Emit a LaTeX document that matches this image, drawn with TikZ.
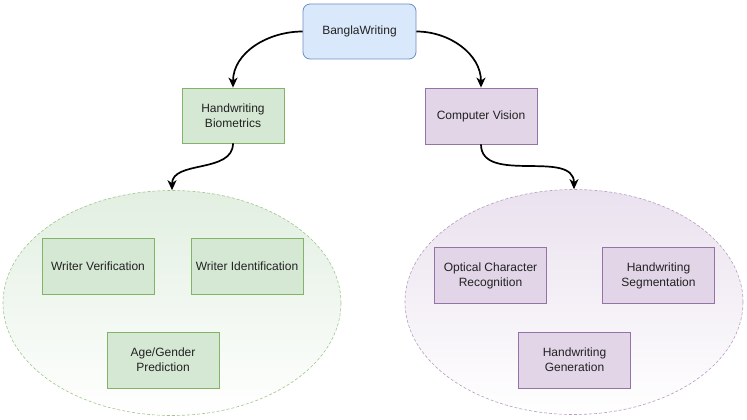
\documentclass[tikz,border=0pt]{standalone}
\usepackage{fontspec}
\setmainfont{Liberation Sans}
\usetikzlibrary{shapes.geometric,arrows.meta,positioning}
\definecolor{bluefill}{HTML}{DAE8FC}
\definecolor{bluedraw}{HTML}{6C8EBF}
\definecolor{greenfill}{HTML}{D5E8D4}
\definecolor{greendraw}{HTML}{82B366}
\definecolor{purplefill}{HTML}{E1D5E7}
\definecolor{purpledraw}{HTML}{9673A6}
\definecolor{textgrey}{HTML}{222222}
\tikzset{
  box/.style={align=center,font=\fontsize{12}{15}\selectfont,text=textgrey,line width=0.8pt,
    minimum width=112pt,minimum height=56pt,inner sep=2pt},
  rootbox/.style={box,draw=bluedraw,fill=bluefill,rounded corners=7pt,minimum width=113pt,minimum height=55pt},
  greenbox/.style={box,draw=greendraw,fill=greenfill},
  purplebox/.style={box,draw=purpledraw,fill=purplefill},
  group/.style={ellipse,dash pattern=on 3pt off 2pt,line width=0.6pt,minimum width=338pt,minimum height=225pt,inner sep=0pt},
  greengroup/.style={group,draw=greendraw!75!white,top color=greenfill!70!white,bottom color=white},
  purplegroup/.style={group,draw=purpledraw!70!white,top color=purplefill!70!white,bottom color=white},
  link/.style={-{Stealth[length=10pt,width=9pt,inset=3pt]},line width=1.7pt,black}
}
\begin{document}
\begin{tikzpicture}[x=1pt,y=-1pt]
%
\useasboundingbox (0,0) rectangle (747,420);
%
\node[greengroup] (bio) at (172,303) {};
\node[purplegroup] (cvg) at (574,302) {};
%
\node[rootbox] (bangla) at (359.5,31.5) {BanglaWriting};
\node[greenbox,minimum width=102pt,minimum height=55pt] (biom) at (233,115.5) {Handwriting\\Biometrics};
\node[purplebox] (vision) at (481,116) {Computer Vision};
%
\node[greenbox] (wver) at (98,266) {Writer Verification};
\node[greenbox] (wid) at (247,266) {Writer Identification};
\node[greenbox] (agp) at (163,360) {Age/Gender\\Prediction};
%
\node[purplebox] (ocr) at (490.5,275.5) {Optical Character\\Recognition};
\node[purplebox] (hseg) at (658.5,275.5) {Handwriting\\Segmentation};
\node[purplebox] (hgen) at (574.5,360) {Handwriting\\Generation};
%
\draw[link] (bangla.west) to[out=180,in=90] (biom.north);
\draw[link] (bangla.east) to[out=0,in=90] (vision.north);
\draw[link] (biom.south) to[out=-90,in=90] (bio.north);
\draw[link] (vision.south) to[out=-90,in=90] (cvg.north);
%
\end{tikzpicture}
\end{document}
